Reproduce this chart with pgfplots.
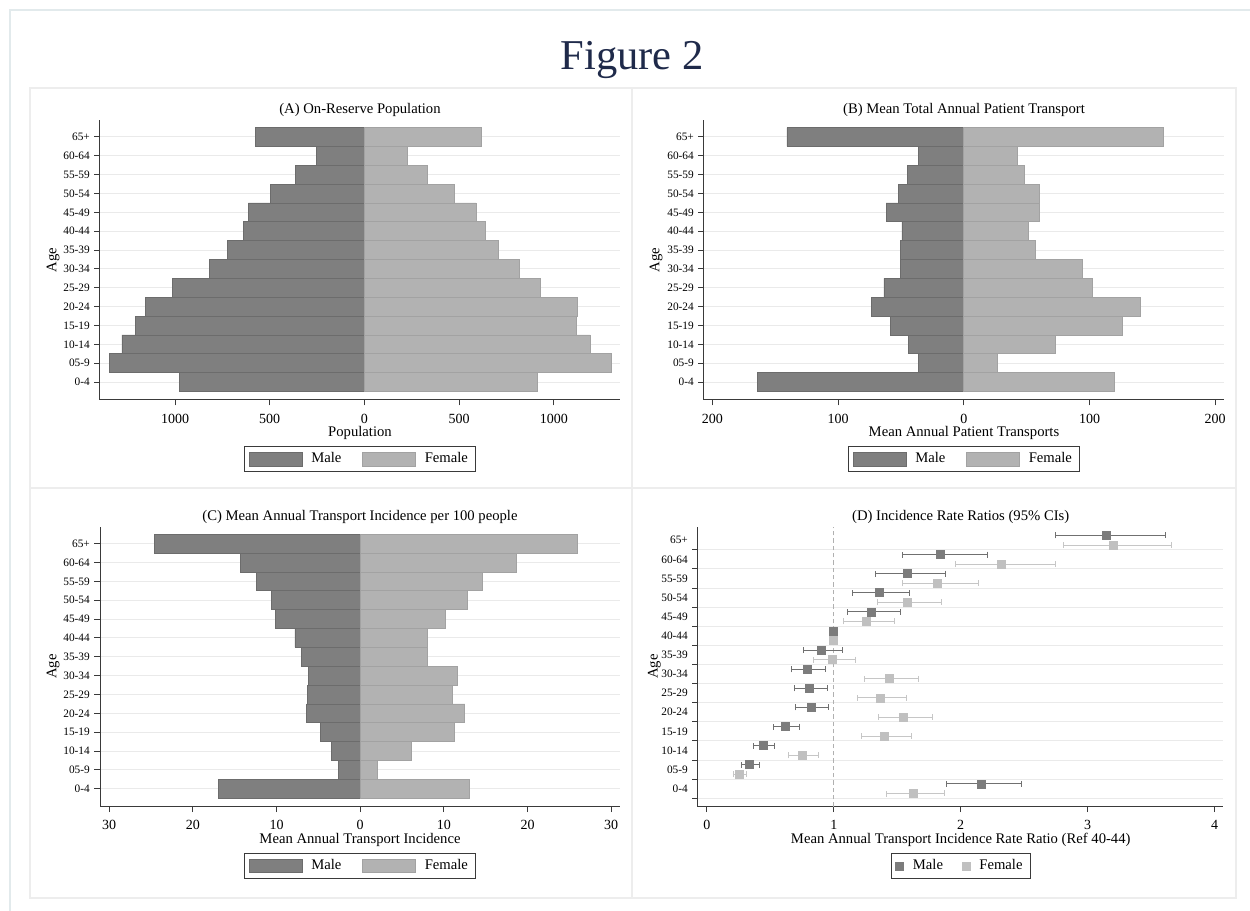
\documentclass[border=0pt]{standalone}
\usepackage{fontspec}
\setmainfont{Liberation Serif}
\usepackage{pgfplots}
\pgfplotsset{compat=1.18}
\usepackage{pgfplotstable}

\definecolor{male}{HTML}{7F7F7F}
\definecolor{maleedge}{HTML}{6C6C6C}
\definecolor{female}{HTML}{B2B2B2}
\definecolor{femaleedge}{HTML}{A2A2A2}
\definecolor{gridc}{HTML}{EAEAEA}
\definecolor{axisc}{HTML}{3A3A3A}
\definecolor{navy}{HTML}{1F2A4A}
\definecolor{panelc}{HTML}{EDEDED}
\definecolor{framec}{HTML}{E2EAEC}
\definecolor{dmale}{HTML}{7C7C7C}
\definecolor{dmaleci}{HTML}{707070}
\definecolor{dfemale}{HTML}{C0C0C0}
\definecolor{dfemaleci}{HTML}{C6C6C6}

% i  male(neg)  female
\pgfplotstableread{
i m f
0 -978 911
1 -1347 1302
2 -1280 1191
3 -1207 1118
4 -1156 1126
5 -1012 929
6 -819 815
7 -724 708
8 -637 639
9 -613 588
10 -495 473
11 -363 331
12 -252 229
13 -574 615
}\dataA

\pgfplotstableread{
i m f
0 -164.5 119.6
1 -35.8 26.6
2 -44.3 72.5
3 -58.1 126.3
4 -73.7 140.7
5 -63.6 102.4
6 -50.2 94.5
7 -50.5 57.2
8 -49.2 51.4
9 -61.8 59.9
10 -52.3 60.2
11 -44.6 48.3
12 -36.1 42.8
13 -140.7 159.0
}\dataB

\pgfplotstableread{
i m f
0 -16.9 13.1
1 -2.6 2.07
2 -3.4 6.1
3 -4.8 11.25
4 -6.4 12.5
5 -6.3 11.0
6 -6.2 11.6
7 -7.0 8.0
8 -7.8 8.0
9 -10.1 10.2
10 -10.6 12.8
11 -12.4 14.65
12 -14.3 18.7
13 -24.6 25.9
}\dataC

\pgfplotstableread{
y x lo hi
0.25 2.16 1.886 2.475
1.25 0.337 0.276 0.412
2.25 0.443 0.367 0.531
3.25 0.619 0.522 0.728
4.25 0.819 0.700 0.955
5.25 0.807 0.688 0.949
6.25 0.788 0.667 0.937
7.25 0.898 0.761 1.067
8.25 1.000 1.000 1.000
9.25 1.295 1.107 1.525
10.25 1.356 1.150 1.600
11.25 1.580 1.330 1.880
12.25 1.840 1.540 2.210
13.25 3.150 2.750 3.610
}\dataDm

\pgfplotstableread{
y x lo hi
-0.25 1.625 1.413 1.871
0.75 0.252 0.206 0.309
1.75 0.752 0.643 0.879
2.75 1.398 1.219 1.610
3.75 1.550 1.350 1.780
4.75 1.365 1.183 1.574
5.75 1.437 1.243 1.665
6.75 0.990 0.843 1.168
7.75 1.000 1.000 1.000
8.75 1.259 1.074 1.480
9.75 1.577 1.346 1.850
10.75 1.813 1.540 2.140
11.75 2.317 1.962 2.744
12.75 3.200 2.810 3.660
}\dataDf

\pgfplotsset{
  common/.style={
    scale only axis, height=168pt,
    anchor=north west,
    axis x line*=bottom, axis y line*=left,
    axis line style={axisc, line width=0.6pt},
    tick align=outside,
    major tick length=3.3pt,
    tick style={axisc, line width=0.6pt},
    ytick={0,...,13},
    yticklabels={0-4,05-9,10-14,15-19,20-24,25-29,30-34,35-39,40-44,45-49,50-54,55-59,60-64,65+},
    yticklabel style={font=\fontsize{6.8}{8}\selectfont, inner xsep=2.6pt},
    xticklabel style={font=\fontsize{8.4}{10}\selectfont, yshift=-1.5pt},
    grid style={gridc, line width=0.6pt},
    ylabel={Age},
    every axis title shift=0pt,
    title style={font=\fontsize{8.8}{10}\selectfont, at={(axis description cs:0.5,1.036)}, anchor=center},
    every axis x label/.style={at={(axis description cs:0.5,-0.118)}, anchor=center, font=\fontsize{8.8}{10}\selectfont},
    every axis y label/.style={at={(axis description cs:-0.09,0.5)}, rotate=90, anchor=center, font=\fontsize{8.8}{10}\selectfont},
    legend columns=2,
    legend cell align=left,
    legend style={at={(axis description cs:0.5,-0.164)}, anchor=north,
      draw=axisc, line width=0.6pt, inner xsep=2.5pt, inner ysep=1.8pt,
      font=\fontsize{8.8}{10}\selectfont,
      /tikz/every odd column/.append style={column sep=3.4pt},
      /tikz/every even column/.append style={column sep=10.4pt}},
  },
  pyr/.style={
    common, width=312pt,
    ymin=-0.95, ymax=13.9,
    ymajorgrids,
    xbar, bar width=1, bar shift=0pt,
    legend image code/.code={\draw[##1] (0pt,-4.1pt) rectangle (31.8pt,4.1pt);},
  },
  mstyle/.style={fill=male, draw=maleedge, line width=0.4pt},
  fstyle/.style={fill=female, draw=femaleedge, line width=0.4pt},
}

\begin{document}
\begin{tikzpicture}[x=0.6pt,y=0.6pt]
\path[use as bounding box] (0,0) rectangle (1250,911);
\fill[white] (0,0) rectangle (1250,911);
% outer frame
\draw[framec, line width=1pt] (10,0) -- (10,901) -- (1250,901);
% panel frame
\draw[panelc, line width=1pt] (30,13) rectangle (1236,823);
\draw[panelc, line width=1pt] (632,13) -- (632,823);
\draw[panelc, line width=1pt] (30,423) -- (1236,423);
% main title
\node[anchor=base, text=navy, font=\fontsize{25.5}{30}\selectfont] at (632,841) {Figure 2};

% Panel A
\begin{axis}[pyr, at={(60pt,474.6pt)},
  xmin=-1396, xmax=1349,
  xtick={-1000,-500,0,500,1000}, xticklabels={1000,500,0,500,1000},
  title={(A) On-Reserve Population}, xlabel={Population}]
\addplot[mstyle] table[x=m,y=i] {\dataA};
\addplot[fstyle] table[x=f,y=i] {\dataA};
\legend{Male,Female}
\end{axis}

% Panel B
\begin{axis}[pyr, at={(422.4pt,474.6pt)},
  xmin=-206.7, xmax=207,
  xtick={-200,-100,0,100,200}, xticklabels={200,100,0,100,200},
  title={(B) Mean Total Annual Patient Transport}, xlabel={Mean Annual Patient Transports},
  every axis y label/.append style={at={(axis description cs:-0.092,0.5)}}]
\addplot[mstyle] table[x=m,y=i] {\dataB};
\addplot[fstyle] table[x=f,y=i] {\dataB};
\legend{Male,Female}
\end{axis}

% Panel C
\begin{axis}[pyr, at={(60pt,230.58pt)},
  xmin=-31.1, xmax=31.05,
  xtick={-30,-20,-10,0,10,20,30}, xticklabels={30,20,10,0,10,20,30},
  title={(C) Mean Annual Transport Incidence per 100 people}, xlabel={Mean Annual Transport Incidence}]
\addplot[mstyle] table[x=m,y=i] {\dataC};
\addplot[fstyle] table[x=f,y=i] {\dataC};
\legend{Male,Female}
\end{axis}

% Panel D
\begin{axis}[common, at={(418.8pt,230.58pt)}, width=315.3pt,
  xmin=-0.07, xmax=4.07, ymin=-0.94, ymax=13.71,
  xtick={0,1,2,3,4}, xticklabels={0,1,2,3,4},
  y tick style={draw=none},
  extra y ticks={-0.5,0.5,1.5,2.5,3.5,4.5,5.5,6.5,7.5,8.5,9.5,10.5,11.5,12.5},
  extra y tick labels={},
  extra y tick style={ymajorgrids=true, y tick style={draw=axisc, line width=0.6pt}},
  title={(D) Incidence Rate Ratios (95\% CIs)},
  xlabel={Mean Annual Transport Incidence Rate Ratio (Ref 40-44)},
  every axis y label/.append style={at={(axis description cs:-0.083,0.5)}},
  legend style={at={(axis description cs:0.5,-0.165)},
    /tikz/every odd column/.append style={column sep=3.6pt},
    /tikz/every even column/.append style={column sep=9.4pt}},
  legend image code/.code={\draw[mark repeat=2,mark phase=2,#1] plot coordinates {(0pt,0pt) (2.6pt,0pt) (5.2pt,0pt)};}]
\addplot[forget plot, draw={rgb,255:red,176;green,176;blue,176}, line width=0.7pt, dash pattern=on 2.6pt off 1.8pt] coordinates {(1,-0.94) (1,13.71)};
\addplot[only marks, mark=square*, mark size=2.4pt, color=dmale,
  error bars/.cd, x dir=both, x explicit, error mark=|,
  error bar style={dmaleci, line width=0.6pt},
  error mark options={dmaleci, line width=0.6pt, mark size=1.8pt}]
  table[x=x, y=y, x error plus expr=\thisrow{hi}-\thisrow{x}, x error minus expr=\thisrow{x}-\thisrow{lo}] {\dataDm};
\addplot[only marks, mark=square*, mark size=2.4pt, color=dfemale,
  error bars/.cd, x dir=both, x explicit, error mark=|,
  error bar style={dfemaleci, line width=0.6pt},
  error mark options={dfemaleci, line width=0.6pt, mark size=1.8pt}]
  table[x=x, y=y, x error plus expr=\thisrow{hi}-\thisrow{x}, x error minus expr=\thisrow{x}-\thisrow{lo}] {\dataDf};
\legend{Male,Female}
\end{axis}
\end{tikzpicture}
\end{document}
